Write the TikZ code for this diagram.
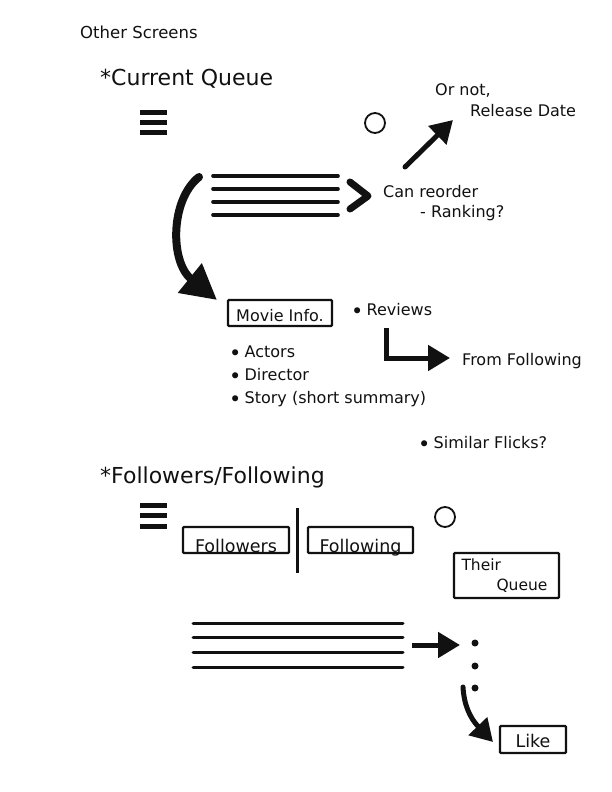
\documentclass[tikz,border=0pt]{standalone}
\usepackage{fontspec}
\setmainfont{DejaVu Sans}
\usepackage{tikz}
\usetikzlibrary{arrows.meta,positioning,calc}
\definecolor{skink}{RGB}{17,17,17}
\definecolor{skpaper}{RGB}{255,255,255}
\tikzset{
  txt/.style={font=\fontsize{16}{18}\selectfont, text=skink, inner sep=0pt, anchor=base west},
  smalltxt/.style={txt, font=\fontsize{16.5}{18}\selectfont},
  headtxt/.style={txt, font=\fontsize{22}{26}\selectfont},
  tab/.style={
    draw=skink, line width=2.2pt, rounded corners=1pt, inner sep=0pt,
    font=\fontsize{16}{18}\selectfont, text=skink
  },
  widetab/.style={tab, font=\fontsize{17.5}{20}\selectfont},
  bar/.style={draw=skink, line width=5pt},
  row/.style={draw=skink, line width=3.6pt, line cap=round},
  thinrow/.style={row, line width=3pt},
  chev/.style={draw=skink, line width=7pt, line cap=round, line join=round},
  divider/.style={draw=skink, line width=3pt},
  radio/.style={draw=skink, line width=1.8pt, circle, minimum size=20pt, inner sep=0pt},
  dotmark/.style={fill=skink, circle, minimum size=7pt, inner sep=0pt},
  fat/.style={draw=skink, line width=5pt, -{Triangle[length=22pt,width=25pt]}},
  bigfat/.style={draw=skink, line width=8pt, -{Triangle[length=35pt,width=36pt]}}
}
\newcommand{\bul}{\raisebox{-0.45ex}{\scalebox{1.3}{•}}\hspace{0.2em}}
\begin{document}
\begin{tikzpicture}[x=1pt,y=-1pt]
  \useasboundingbox[fill=skpaper] (0,0) rectangle (612,792);
  % current queue screen
  \node[smalltxt] (other) at (80,39) {Other Screens};
  \node[headtxt] (curq) at (100,85) {*Current Queue};
  \foreach \y in {112,122,132} \draw[bar] (140,\y) -- (167,\y);
  \node[radio] (sortradio) at (375,123) {};
  \foreach \y in {176,189,202,215} \draw[row] (213,\y) -- (338,\y);
  \draw[chev] (350,182) -- (368,196) -- (350,209);
  \node[txt] (reorder) at (383,197) {Can reorder};
  \node[txt] (ranking) at (420,217) {- Ranking?};
  \node[txt] (ornot) at (435,95) {Or not,};
  \node[txt] (reldate) at (470,116) {Release Date};
  \coordinate (sorttail) at (405,167);
  \coordinate (sorttip) at (453,120);
  \draw[fat, line cap=round] (sorttail) -- (sorttip);
  \node[tab, minimum width=104pt, minimum height=26pt, text height=16pt, text depth=0pt] (movie) at (280,313) {Movie Info.};
  \coordinate (qcurl) at (199,177);
  \coordinate (movietip) at (217,300);
  \draw[bigfat, line cap=round] (qcurl) .. controls (170,200) and (170,262) .. (movietip);
  \node[txt] (reviews) at (351,315) {\bul Reviews};
  \node[txt] (actors) at (229,357) {\bul Actors};
  \node[txt] (director) at (229,380) {\bul Director};
  \node[txt] (story) at (229,403) {\bul Story (short summary)};
  \node[txt] (fromfol) at (462,365) {From Following};
  \coordinate (revturn) at (386,328);
  \coordinate (fromtip) at (450,358);
  \draw[fat] (revturn) |- (fromtip);
  \node[txt] (similar) at (418,448) {\bul Similar Flicks?};
  % followers / following screen
  \node[headtxt] (folhead) at (100,483) {*Followers/Following};
  \foreach \y in {505,515,526} \draw[bar] (140,\y) -- (167,\y);
  \node[widetab, minimum width=106pt, minimum height=26pt, text height=24pt, text depth=0pt] (followers) at (236,540) {Followers};
  \node[widetab, minimum width=105pt, minimum height=26pt, text height=24pt, text depth=0pt] (following) at (360.5,540) {Following};
  \draw[divider] (297,508) -- (297,573);
  \node[radio] (folradio) at (445,517) {};
  \node[tab, minimum width=105pt, minimum height=45pt, text width=90pt, align=left,
    font=\fontsize{15.5}{20}\selectfont] (theirq) at (506.5,575.5) {Their\\\hspace*{35pt}Queue};
  \foreach \y in {623,637,652,667} \draw[thinrow] (193,\y) -- (403,\y);
  \node[dotmark] (dot1) at (475,643) {};
  \node[dotmark] (dot2) at (475,666) {};
  \node[dotmark] (dot3) at (475,688) {};
  \coordinate (rowsend) at (412,645);
  \coordinate (moretip) at (460,645);
  \draw[fat] (rowsend) -- (moretip);
  \node[widetab, minimum width=66pt, minimum height=27pt, text height=15pt, text depth=0pt] (like) at (533,739.5) {Like};
  \coordinate (likecurl) at (463,687);
  \coordinate (liketip) at (493,742);
  \draw[fat, line cap=round] (likecurl) .. controls (464,705) and (470,718) .. (liketip);
\end{tikzpicture}
\end{document}
